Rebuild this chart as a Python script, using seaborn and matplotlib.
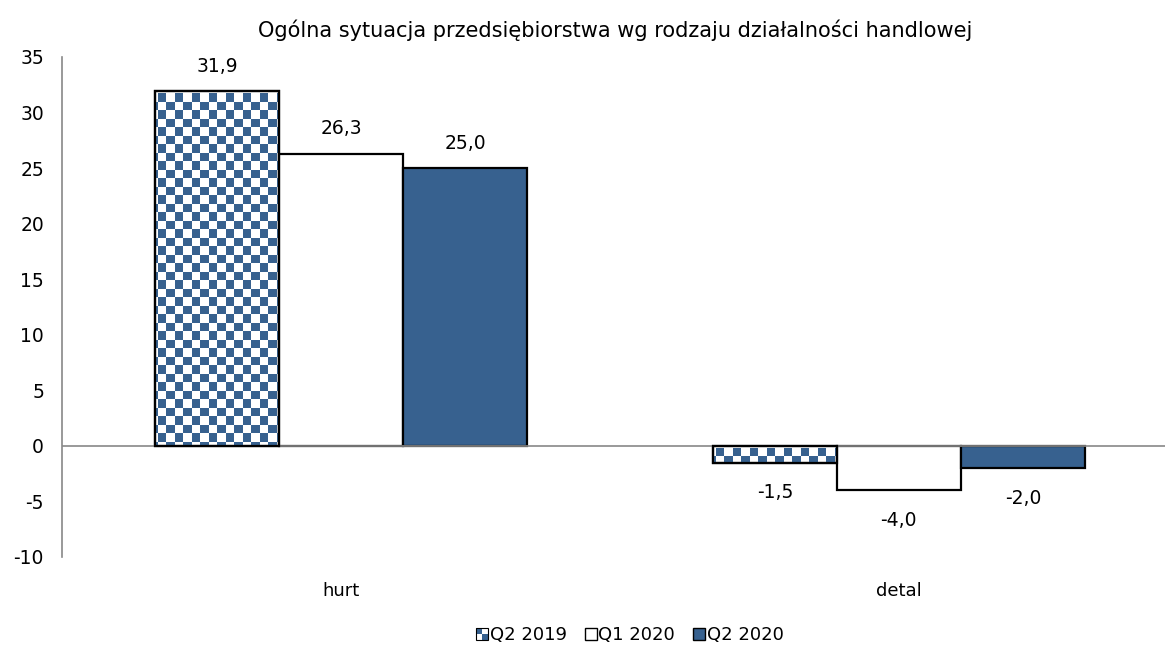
import numpy as np
import pandas as pd
import matplotlib
matplotlib.use("Agg")
import matplotlib.pyplot as plt
import seaborn as sns
from matplotlib.patches import Rectangle
from matplotlib.collections import PatchCollection
from matplotlib.legend_handler import HandlerBase

categories = ["hurt", "detal"]
series = ["Q2 2019", "Q1 2020", "Q2 2020"]
q2_2019 = [31.9, -1.5]
q1_2020 = [26.3, -4.0]
q2_2020 = [25.0, -2.0]
y_ticks = [-10, -5, 0, 5, 10, 15, 20, 25, 30, 35]
title = "Ogólna sytuacja przedsiębiorstwa wg rodzaju działalności handlowej"

BLUE = "#37618f"

df = pd.DataFrame({
    "rodzaj": categories * 3,
    "okres": [s for s in series for _ in categories],
    "wartosc": q2_2019 + q1_2020 + q2_2020,
})

sns.set_theme(style="white")
plt.rcParams["font.family"] = ["DejaVu Sans"]
plt.rcParams["text.color"] = "black"
plt.rcParams["xtick.color"] = "black"
plt.rcParams["ytick.color"] = "black"

fig = plt.figure(figsize=(11.7, 6.46), dpi=100)
ax = fig.add_axes([62 / 1170, 89 / 646, (1165 - 62) / 1170, (589 - 89) / 646])

palette = {"Q2 2019": "white", "Q1 2020": "white", "Q2 2020": BLUE}
sns.barplot(data=df, x="rodzaj", y="wartosc", hue="okres", order=categories,
            hue_order=series, palette=palette, width=0.667, gap=0,
            edgecolor="black", linewidth=1.6, saturation=1, legend=False, ax=ax)

ax.set_ylim(-10, 35)
ax.set_xlim(-0.5, 1.477)
ax.set_yticks(y_ticks)
ax.set_yticklabels([str(t) for t in y_ticks], fontsize=13.5)
ax.tick_params(axis="y", length=0, pad=13)
ax.tick_params(axis="x", length=0, pad=18, labelsize=13)
ax.set_xlabel("")
ax.set_ylabel("")
for s in ["top", "right", "bottom"]:
    ax.spines[s].set_visible(False)
ax.spines["left"].set_color("#888888")
ax.spines["left"].set_linewidth(1.2)
ax.axhline(0, color="#888888", linewidth=1.2, zorder=1)

# checkerboard fill for the first series, laid out on whole screen pixels per bar
fig.canvas.draw()
cell = 8.5
to_data = ax.transData.inverted()
for bar in ax.containers[0]:
    (px0, py0), (px1, py1) = ax.transData.transform(
        [[bar.get_x(), min(bar.get_y(), bar.get_y() + bar.get_height())],
         [bar.get_x() + bar.get_width(), max(bar.get_y(), bar.get_y() + bar.get_height())]])
    squares = []
    start_x = px0 + 3
    top = py1 - 2
    ncol = int(np.ceil((px1 - start_x) / cell)) + 1
    nrow = int(np.ceil((py1 - py0) / cell)) + 1
    for r in range(nrow):
        for c in range(-1, ncol):
            if (r + c) % 2:
                continue
            sx0 = round(start_x + c * cell)
            sx1 = round(start_x + (c + 1) * cell)
            sy1 = round(top - r * cell)
            sy0 = round(top - (r + 1) * cell)
            (dx0, dy0), (dx1, dy1) = to_data.transform([[sx0, sy0], [sx1, sy1]])
            squares.append(Rectangle((dx0, dy0), dx1 - dx0, dy1 - dy0))
    pc = PatchCollection(squares, facecolor=BLUE, edgecolor="none", antialiased=False,
                         zorder=bar.get_zorder() + 0.1)
    ax.add_collection(pc)
    pc.set_clip_path(bar)
    ax.add_patch(Rectangle(bar.get_xy(), bar.get_width(), bar.get_height(),
                           fill=False, edgecolor="black", linewidth=1.6,
                           zorder=bar.get_zorder() + 0.2))
ax.set_xlim(-0.5, 1.477)
ax.set_ylim(-10, 35)

for cont in ax.containers:
    labels = [f"{v:.1f}".replace(".", ",") for v in cont.datavalues]
    ax.bar_label(cont, labels=labels, padding=11, fontsize=13.5)
    for txt, v in zip(ax.texts[-len(labels):], cont.datavalues):
        if v < 0:
            x, y = txt.xyann
            txt.xyann = (x, y - 4)

fig.suptitle(title, x=615 / 1170, y=1 - 30 / 646, va="center", fontsize=15)


class CheckerHandler(HandlerBase):
    def create_artists(self, legend, orig_handle, xdescent, ydescent,
                       width, height, fontsize, trans):
        s = min(width, height)
        x = -xdescent + (width - s) / 2
        y = -ydescent
        h = s / 2
        return [
            Rectangle((x, y), s, s, facecolor="white", edgecolor="none", transform=trans),
            Rectangle((x, y + h), h, h, facecolor=BLUE, edgecolor="none", transform=trans),
            Rectangle((x + h, y), h, h, facecolor=BLUE, edgecolor="none", transform=trans),
            Rectangle((x, y), s, s, fill=False, edgecolor="black", linewidth=0.8, transform=trans),
        ]


handles = [
    Rectangle((0, 0), 1, 1),
    Rectangle((0, 0), 1, 1, facecolor="white", edgecolor="black", linewidth=1.0),
    Rectangle((0, 0), 1, 1, facecolor=BLUE, edgecolor="black", linewidth=1.0),
]
fig.legend(handles, series, loc="center", bbox_to_anchor=(630 / 1170, 1 - 635 / 646),
           ncol=3, frameon=False, fontsize=13, handlelength=0.65, handleheight=0.65,
           handletextpad=0.1, columnspacing=1.0,
           handler_map={handles[0]: CheckerHandler()})

fig.savefig("out.png", dpi=100)
